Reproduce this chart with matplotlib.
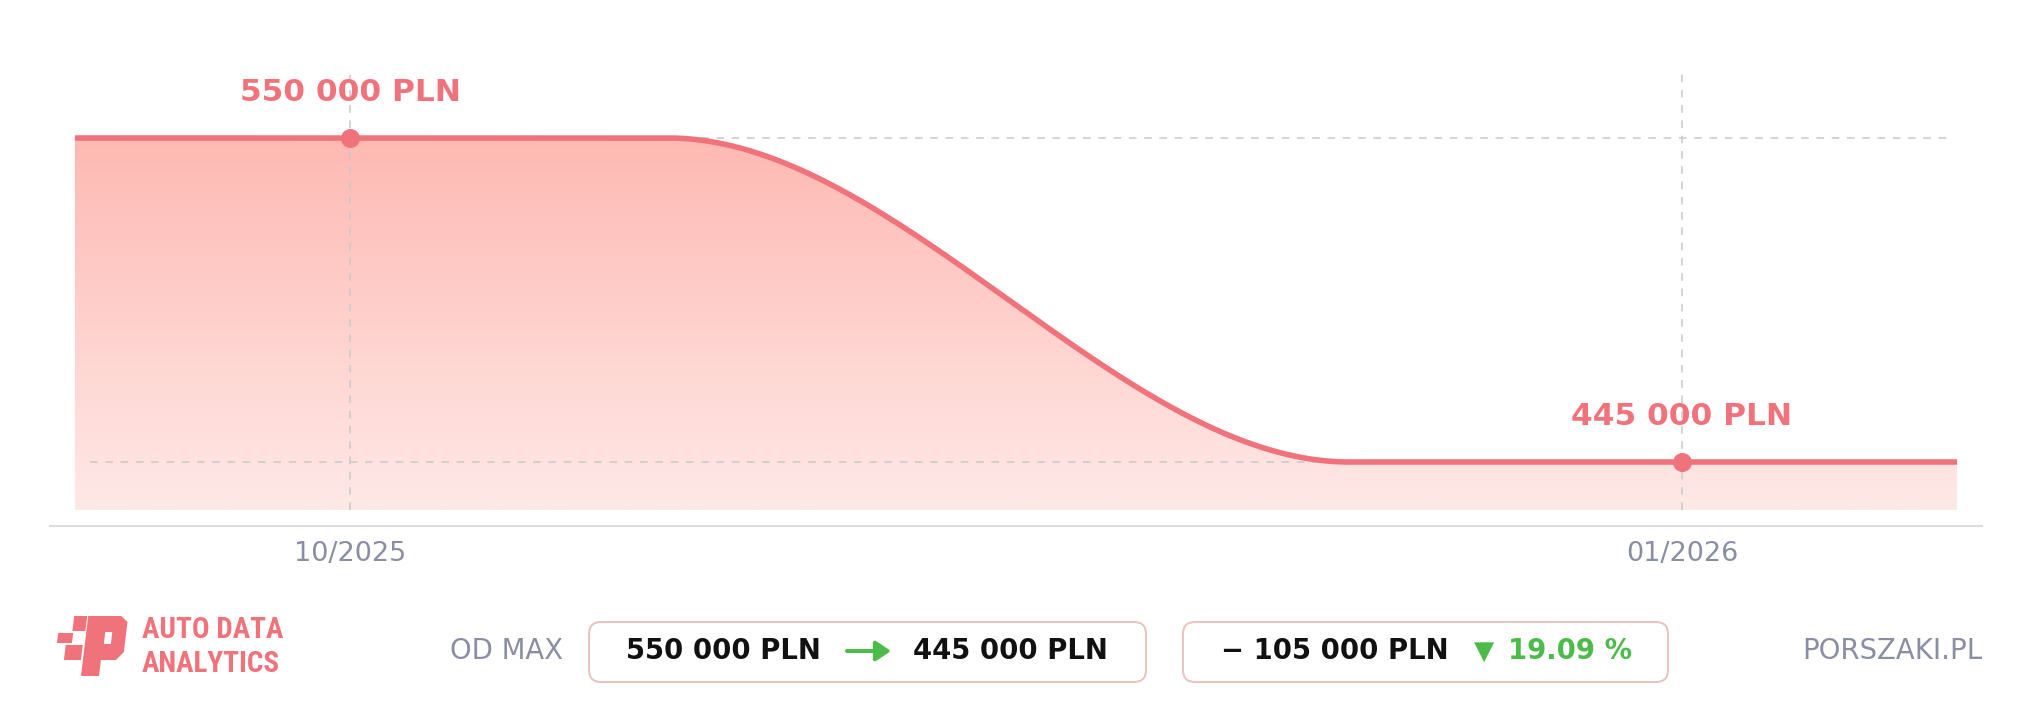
import numpy as np
import pandas as pd
import matplotlib
matplotlib.use("Agg")
import matplotlib.pyplot as plt
import matplotlib.dates as mdates
from matplotlib import font_manager
from matplotlib.colors import LinearSegmentedColormap
from matplotlib.patches import FancyBboxPatch, FancyArrowPatch, Polygon

# price history (PLN)
dates = ["2025-09-12", "2025-10-23", "2025-12-09", "2026-01-20"]
prices = [550000, 550000, 445000, 445000]

# highlighted points: max and current
marker_dates = ["2025-10-01", "2026-01-01"]
marker_prices = [550000, 445000]

tick_dates = ["2025-10-01", "2026-01-01"]
tick_labels = ["10/2025", "01/2026"]

W, H = 2032, 722
LINE = "#f0737c"
GRAY = "#8a8ea3"
GREEN = "#4cbb4a"
BORDER = "#e9c3bf"


def px(x, y):
    # pixel position (y down) -> inches for fig.dpi_scale_trans
    return (x / 100.0, (H - y) / 100.0)


def pchip(x, y, xs):
    # monotone cubic, same smoothing as the web chart
    x = np.asarray(x, float)
    y = np.asarray(y, float)
    h = np.diff(x)
    d = np.diff(y) / h
    m = np.zeros_like(y)
    m[0], m[-1] = d[0], d[-1]
    for k in range(1, len(x) - 1):
        if d[k - 1] * d[k] > 0:
            w1 = 2 * h[k] + h[k - 1]
            w2 = h[k] + 2 * h[k - 1]
            m[k] = (w1 + w2) / (w1 / d[k - 1] + w2 / d[k])
    idx = np.clip(np.searchsorted(x, xs) - 1, 0, len(x) - 2)
    t = (xs - x[idx]) / h[idx]
    h00 = 2 * t**3 - 3 * t**2 + 1
    h10 = t**3 - 2 * t**2 + t
    h01 = -2 * t**3 + 3 * t**2
    h11 = t**3 - t**2
    return (h00 * y[idx] + h10 * h[idx] * m[idx]
            + h01 * y[idx + 1] + h11 * h[idx] * m[idx + 1])


xd = mdates.date2num(pd.to_datetime(dates))
xm = mdates.date2num(pd.to_datetime(marker_dates))
xt = mdates.date2num(pd.to_datetime(tick_dates))

xs = np.linspace(xd[0], xd[-1], 800)
ys = pchip(xd, prices, xs)

fig = plt.figure(figsize=(W / 100, H / 100), dpi=100)
ax = fig.add_axes([50 / W, (H - 510) / H, 1932 / W, 440 / H])

# axis scale: 10/2025 -> px 350, 01/2026 -> px 1682
ppd = (1682 - 350) / (xt[1] - xt[0])
xlim = (xt[0] - 300 / ppd, xt[0] + 1632 / ppd)
ppv = 324 / (max(prices) - min(prices))
ylim = (min(prices) - 48 / ppv, max(prices) + 68 / ppv)

# gradient area under the line
cmap = LinearSegmentedColormap.from_list("g", ["#fee9e7", "#ffb0a9"])
grad = np.linspace(0, 1, 256).reshape(-1, 1)
im = ax.imshow(grad, extent=[xlim[0], xlim[1], ylim[0], ylim[1]],
               origin="lower", aspect="auto", cmap=cmap, zorder=1)
area = ax.fill_between(xs, ys, ylim[0], color="none", lw=0)
im.set_clip_path(area.get_paths()[0], transform=ax.transData)

# dashed guides
for v in marker_prices:
    ax.axhline(v, xmin=40 / 1932, xmax=1900 / 1932, color="#c9c9c9",
               lw=1.1, ls=(0, (5, 5)), zorder=2)
for t in xt:
    ax.axvline(t, color="#c9c9c9", lw=1.1, ls=(0, (5, 5)), zorder=2)

ax.plot(xs, ys, color=LINE, lw=4, solid_capstyle="butt", zorder=3)
ax.plot(xm, marker_prices, "o", color=LINE, ms=13.7, mec="none", zorder=4)

for x, v in zip(xm, marker_prices):
    ax.annotate(f"{v:,} PLN".replace(",", " "), (x, v), xytext=(0, 33),
                textcoords="offset points", ha="center", va="center",
                fontsize=22.5, fontweight="bold", color=LINE, zorder=5)

ax.set_xlim(*xlim)
ax.set_ylim(*ylim)
ax.set_xticks(xt)
ax.set_xticklabels(tick_labels)
ax.set_yticks([])
ax.tick_params(axis="x", length=0, pad=11, labelsize=19.5, labelcolor=GRAY)
for s in ["top", "left", "right"]:
    ax.spines[s].set_visible(False)
ax.spines["bottom"].set_position(("outward", 11.5))
ax.spines["bottom"].set_color("#dcdcdc")
ax.spines["bottom"].set_linewidth(1.44)
ax.patch.set_alpha(0)

# ---- footer row ----
T = fig.dpi_scale_trans
cy = 651

# logo mark (slanted P with checker squares)
k = 0.12


def skew(pts):
    return [px(x + k * (676 - y), y) for x, y in pts]


logo_shapes = [
    [(67, 616), (80, 616), (80, 631), (67, 631)],
    [(53, 633), (68, 633), (68, 643), (53, 643)],
    [(62, 645), (79, 645), (79, 660), (62, 660)],
    [(81, 616), (114, 616), (121, 622), (121, 652), (114, 660),
     (99, 660), (99, 676), (81, 676)],
]
for shp in logo_shapes:
    fig.add_artist(Polygon(skew(shp), closed=True, fc=LINE, ec="none",
                           transform=T))
fig.add_artist(Polygon(skew([(100, 632), (107, 632), (107, 644), (100, 644)]),
                       closed=True, fc="white", ec="none", transform=T))

# narrow font for the logo words, whichever is installed
fonts = font_manager.fontManager.ttflist
names = {f.name for f in fonts}
logo_kw = None
for fam, size in [("Liberation Sans Narrow", 22), ("Roboto Condensed", 21),
                  ("Open Sans Condensed", 21)]:
    if fam in names:
        logo_kw = dict(family=fam, fontsize=size, fontweight="bold")
        break
if logo_kw is None:
    if any(f.name == "DejaVu Sans" and f.stretch == "condensed" for f in fonts):
        logo_kw = dict(family="DejaVu Sans", fontstretch="condensed",
                       fontsize=19, fontweight="bold")
    else:
        logo_kw = dict(family="DejaVu Sans", fontsize=18)

fig.text(*px(142, 630), "AUTO DATA", transform=T, ha="left", va="center",
         color=LINE, **logo_kw)
fig.text(*px(142, 664), "ANALYTICS", transform=T, ha="left", va="center",
         color=LINE, **logo_kw)

fig.text(*px(563, cy), "OD MAX", transform=T, ha="right", va="center",
         fontsize=19.8, color=GRAY)

for x0, x1 in [(589, 1146), (1183, 1668)]:
    box = FancyBboxPatch(px(x0, 682), (x1 - x0) / 100, 0.60,
                         boxstyle="round,pad=0,rounding_size=0.12",
                         fc="white", ec=BORDER, lw=1.44, transform=T)
    fig.add_artist(box)

max_price = max(prices)
last_price = prices[-1]
diff = max_price - last_price
pct = diff / max_price * 100


def fmt(v):
    return f"{v:,} PLN".replace(",", " ")


fig.text(*px(626, cy), fmt(max_price), transform=T, ha="left", va="center",
         fontsize=19.8, fontweight="bold", color="#111111")
fig.add_artist(FancyArrowPatch(px(847, cy), px(891, cy),
                               arrowstyle="-|>,head_length=0.45,head_width=0.3",
                               mutation_scale=20, lw=2.9, color=GREEN,
                               shrinkA=0, shrinkB=0, transform=T))
fig.text(*px(913, cy), fmt(last_price), transform=T, ha="left", va="center",
         fontsize=19.8, fontweight="bold", color="#111111")

fig.text(*px(1221, cy), "\u2212 " + fmt(diff), transform=T, ha="left",
         va="center", fontsize=19.8, fontweight="bold", color="#111111")
fig.text(*px(1474, cy + 1), "\u25BC", transform=T, ha="left", va="center",
         fontsize=19, color=GREEN)
fig.text(*px(1508, cy), f"{pct:.2f} %", transform=T, ha="left", va="center",
         fontsize=19.8, fontweight="bold", color=GREEN)

fig.text(*px(1982, cy), "PORSZAKI.PL", transform=T, ha="right", va="center",
         fontsize=19.8, color=GRAY)

fig.savefig("out.png", dpi=100, facecolor="white")
